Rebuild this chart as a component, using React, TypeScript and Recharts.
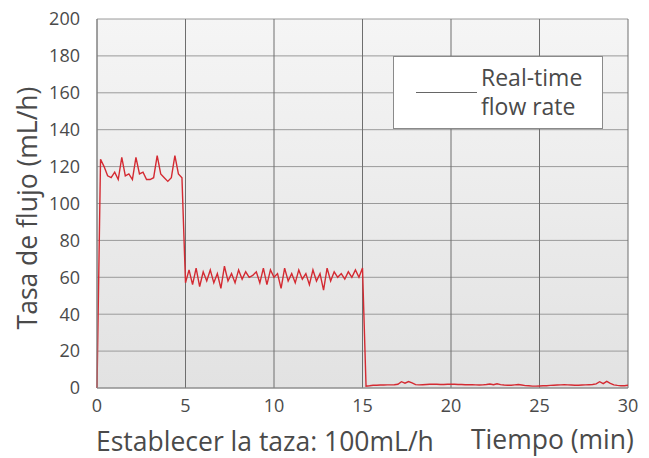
import React from 'react';
import { LineChart, Line, XAxis, YAxis, CartesianGrid } from 'recharts';

// sampling grid of the recorder, in minutes
const SAMPLE_STEP = 0.2;

// 0 - 4.8 min: first stage, around 115 mL/h with periodic spikes
const flowStageOne = [
  0, 124, 120, 115, 114, 117, 113, 125, 115, 116, 113, 125, 116, 117, 113, 113, 114, 126, 116,
  114, 112, 114, 126, 116, 114,
];

// 5.0 - 15.0 min: second stage, around 60 mL/h
const flowStageTwo = [
  57, 64, 56, 65, 55, 63, 58, 64, 57, 62, 54, 66, 58, 62, 57, 64, 59, 63, 60, 61, 63, 57, 65, 56,
  64, 60, 62, 54, 65, 58, 62, 57, 64, 59, 62, 56, 64, 58, 62, 53, 65, 58, 63, 60, 62, 59, 63, 60,
  64, 60, 65,
];

// 15.2 - 30.0 min: near zero
const flowStageThree = [
  1.0, 1.2, 1.5, 1.5, 1.6, 1.6, 1.7, 1.7, 1.8, 2.0, 3.4, 2.6, 3.5, 2.8, 1.8, 1.7, 1.8, 1.9, 2.0,
  2.0, 2.0, 1.9, 1.9, 2.0, 2.0, 2.0, 1.9, 1.9, 1.8, 1.8, 1.8, 1.7, 1.6, 1.7, 1.9, 2.2, 1.8, 2.3,
  1.8, 1.6, 1.5, 1.5, 1.7, 1.9, 1.6, 1.3, 1.2, 1.0, 1.0, 1.1, 1.2, 1.2, 1.4, 1.5, 1.6, 1.7, 1.8,
  1.7, 1.6, 1.5, 1.5, 1.6, 1.7, 1.8, 1.9, 2.2, 3.4, 2.4, 3.6, 2.5, 1.7, 1.4, 1.2, 1.2, 1.5,
];

const xTicks = [0, 5, 10, 15, 20, 25, 30];
const yTicks = [0, 20, 40, 60, 80, 100, 120, 140, 160, 180, 200];

const flow = [...flowStageOne, ...flowStageTwo, ...flowStageThree];
const data = flow.map((value, i) => ({
  t: Math.round(i * SAMPLE_STEP * 10) / 10,
  rate: value,
}));

const FONT = '"Open Sans", "Noto Sans", sans-serif';
const TEXT = '#4a4a4a';

const titleStyle: React.CSSProperties = {
  position: 'absolute',
  whiteSpace: 'nowrap',
  fontFamily: FONT,
  fontSize: 26.5,
  color: TEXT,
  lineHeight: 1,
};

function LegendBox() {
  return (
    <div
      style={{
        position: 'absolute',
        left: 393,
        top: 56,
        width: 210,
        height: 73,
        background: '#fff',
        border: '1px solid #8a8a8a',
        boxSizing: 'border-box',
        fontFamily: FONT,
        color: TEXT,
      }}
    >
      <div
        style={{
          position: 'absolute',
          left: 22,
          top: 35,
          width: 61,
          borderTop: '1px solid #666',
        }}
      />
      <div
        style={{
          position: 'absolute',
          left: 87,
          top: 6,
          fontSize: 23,
          lineHeight: '29px',
        }}
      >
        Real-time
        <br />
        flow rate
      </div>
    </div>
  );
}

export default function App() {
  return (
    <div style={{ position: 'absolute', left: 0, top: 0, width: 649, height: 458, background: '#fff' }}>
      <LineChart
        width={649}
        height={458}
        data={data}
        margin={{ top: 19, right: 21, bottom: 40, left: 0 }}
      >
        <defs>
          <linearGradient id="plotBg" x1="0" y1="0" x2="0" y2="1">
            <stop offset="0%" stopColor="#f5f5f5" />
            <stop offset="100%" stopColor="#e2e2e2" />
          </linearGradient>
        </defs>
        <CartesianGrid
          vertical={false}
          stroke="#9a9a9a"
          fill="url(#plotBg)"
          fillOpacity={1}
        />
        <CartesianGrid horizontal={false} stroke="#6e6e6e" />
        <XAxis
          dataKey="t"
          type="number"
          domain={[0, 30]}
          ticks={xTicks}
          interval={0}
          height={30}
          tickLine={false}
          axisLine={{ stroke: '#8a8a8a' }}
          tickMargin={5}
          tick={{ fill: TEXT, fontSize: 18, fontFamily: FONT }}
        />
        <YAxis
          width={97}
          domain={[0, 200]}
          ticks={yTicks}
          interval={0}
          tickLine={false}
          axisLine={{ stroke: '#8a8a8a' }}
          tickMargin={11}
          tick={{ fill: TEXT, fontSize: 18, fontFamily: FONT }}
        />
        <Line
          type="linear"
          dataKey="rate"
          stroke="#d42a32"
          strokeWidth={1.4}
          dot={false}
          isAnimationActive={false}
        />
      </LineChart>
      <LegendBox />
      <div
        style={{
          ...titleStyle,
          left: 27,
          top: 208,
          transform: 'translate(-50%, -50%) rotate(-90deg)',
        }}
      >
        Tasa de flujo (mL/h)
      </div>
      <div style={{ ...titleStyle, left: 96, top: 428 }}>Establecer la taza: 100mL/h</div>
      <div style={{ ...titleStyle, left: 471, top: 426 }}>Tiempo (min)</div>
    </div>
  );
}
